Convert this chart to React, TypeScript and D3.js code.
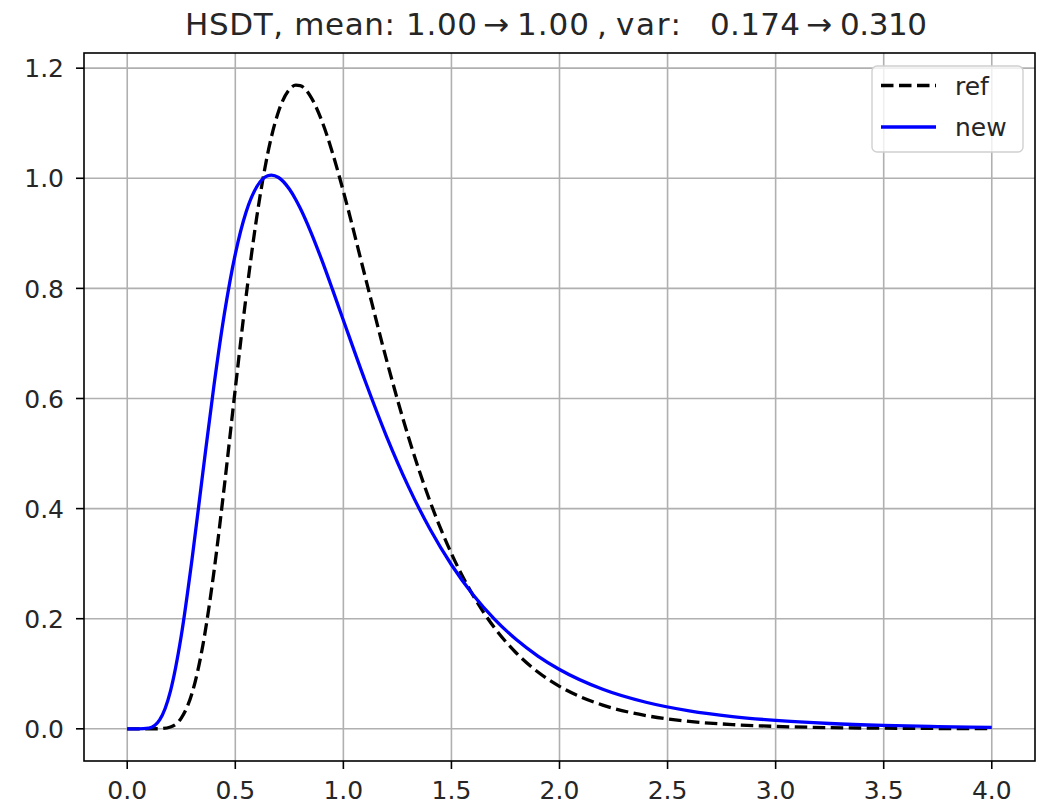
import React from "react";
import * as d3 from "d3";

const xs = [0, 0.05, 0.1, 0.15, 0.2, 0.25, 0.3, 0.35, 0.4, 0.45, 0.5, 0.55, 0.6, 0.65, 0.667, 0.7, 0.75, 0.78, 0.8, 0.85, 0.9, 0.95, 1.0, 1.1, 1.2, 1.3, 1.4, 1.5, 1.6, 1.7, 1.8, 1.9, 2.0, 2.2, 2.4, 2.6, 2.8, 3.0, 3.25, 3.5, 3.75, 4.0];
const refValues = [0, 0, 0.000002, 0.00023, 0.0034, 0.0196, 0.0648, 0.1519, 0.2818, 0.4432, 0.6177, 0.7856, 0.9314, 1.0448, 1.075, 1.1213, 1.1613, 1.1691, 1.1683, 1.1474, 1.1046, 1.0458, 0.9763, 0.8226, 0.6696, 0.5315, 0.4141, 0.3184, 0.2423, 0.1831, 0.1377, 0.1032, 0.0772, 0.0431, 0.0241, 0.0135, 0.0077, 0.0044, 0.0022, 0.0011, 0.0006, 0.0003];
const newValues = [0, 0, 0.0013, 0.0163, 0.0686, 0.1691, 0.3085, 0.4658, 0.6198, 0.7551, 0.8624, 0.9389, 0.9851, 1.0045, 1.0057, 1.0014, 0.9804, 0.9611, 0.946, 0.9019, 0.8517, 0.7977, 0.7422, 0.6326, 0.5309, 0.4409, 0.3634, 0.298, 0.2436, 0.1988, 0.1621, 0.1322, 0.1078, 0.0719, 0.0483, 0.0327, 0.0223, 0.0153, 0.0097, 0.0062, 0.004, 0.0026];
const xTicks = [0, 0.5, 1.0, 1.5, 2.0, 2.5, 3.0, 3.5, 4.0];
const yTicks = [0, 0.2, 0.4, 0.6, 0.8, 1.0, 1.2];
const seriesNames = ["ref", "new"];

const FONT = "DejaVu Sans, Liberation Sans, sans-serif";

export default function App() {
  const W = 1048, H = 805;
  const left = 84, right = 1035, top = 53, bottom = 761;

  const [x0, x1] = d3.extent(xs) as [number, number];
  const xpad = (x1 - x0) * 0.05;
  const allY = refValues.concat(newValues);
  const [y0, y1] = d3.extent(allY) as [number, number];
  const ypad = (y1 - y0) * 0.05;

  const x = d3.scaleLinear().domain([x0 - xpad, x1 + xpad]).range([left, right]);
  const y = d3.scaleLinear().domain([y0 - ypad, y1 + ypad]).range([bottom, top]);

  const line = d3
    .line<number>()
    .x((_, i) => x(xs[i]))
    .y((d) => y(d))
    .curve(d3.curveMonotoneX);

  const tickFs = 25;
  const titleFs = 31;

  return (
    <svg width={W} height={H} style={{ position: "absolute", left: 0, top: 0, background: "#fff" }} fontFamily={FONT}>
      <rect x={0} y={0} width={W} height={H} fill="#fff" />
      {/* grid */}
      <g stroke="#b0b0b0" strokeWidth={1.6}>
        {xTicks.map((t) => (
          <line key={"gx" + t} x1={x(t)} x2={x(t)} y1={top} y2={bottom} />
        ))}
        {yTicks.map((t) => (
          <line key={"gy" + t} x1={left} x2={right} y1={y(t)} y2={y(t)} />
        ))}
      </g>
      {/* curves */}
      <path d={line(refValues) || ""} fill="none" stroke="#000" strokeWidth={3.3} strokeDasharray="12.5,5.5" />
      <path d={line(newValues) || ""} fill="none" stroke="#0000ff" strokeWidth={3.3} />
      {/* spines */}
      <rect x={left} y={top} width={right - left} height={bottom - top} fill="none" stroke="#000" strokeWidth={1.6} />
      {/* x ticks */}
      {xTicks.map((t) => (
        <g key={"xt" + t}>
          <line x1={x(t)} x2={x(t)} y1={bottom} y2={bottom + 8} stroke="#000" strokeWidth={1.6} />
          <text x={x(t)} y={799} fontSize={tickFs} textAnchor="middle" fill="#262626">
            {t.toFixed(1)}
          </text>
        </g>
      ))}
      {/* y ticks */}
      {yTicks.map((t) => (
        <g key={"yt" + t}>
          <line x1={left - 8} x2={left} y1={y(t)} y2={y(t)} stroke="#000" strokeWidth={1.6} />
          <text x={64} y={y(t) + tickFs * 0.365} fontSize={tickFs} textAnchor="end" fill="#262626">
            {t.toFixed(1)}
          </text>
        </g>
      ))}
      {/* title */}
      <g fontSize={titleFs} fill="#262626">
        <text x={185} y={35} textLength={292} lengthAdjust="spacing">HSDT, mean: 1.00</text>
        <text x={483} y={35}>→</text>
        <text x={517} y={35} textLength={72} lengthAdjust="spacing">1.00</text>
        <text x={597} y={35}>,</text>
        <text x={616} y={35} textLength={65} lengthAdjust="spacing">var:</text>
        <text x={710} y={35} textLength={90} lengthAdjust="spacing">0.174</text>
        <text x={806} y={35}>→</text>
        <text x={840} y={35} textLength={87} lengthAdjust="spacing">0.310</text>
      </g>
      {/* legend */}
      <g>
        <rect x={872} y={66} width={151} height={86} rx={5} ry={5} fill="#fff" fillOpacity={0.8} stroke="#d0d0d0" strokeWidth={1.4} />
        <line x1={881} x2={936} y1={85.5} y2={85.5} stroke="#000" strokeWidth={3.3} strokeDasharray="12.5,5.5" />
        <text x={955} y={95} fontSize={tickFs} fill="#262626">{seriesNames[0]}</text>
        <line x1={881} x2={936} y1={127} y2={127} stroke="#0000ff" strokeWidth={3.3} />
        <text x={955} y={136} fontSize={tickFs} fill="#262626">{seriesNames[1]}</text>
      </g>
    </svg>
  );
}
